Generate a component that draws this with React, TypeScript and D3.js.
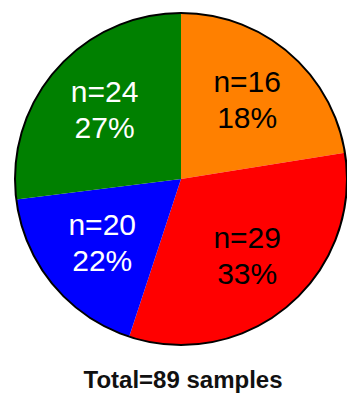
import React from 'react';
import * as d3 from 'd3';

// slice order clockwise from 12 o'clock
const categories = ['orange', 'red', 'blue', 'green'];
const counts = [16, 29, 20, 24];
const percents = ['18%', '33%', '22%', '27%'];
// slice sizes as they are drawn in the picture (orange and blue arcs look swapped vs their labels)
const sliceSizes = [20, 29, 16, 24];
const colors = ['#FF8000', '#FF0000', '#0000FF', '#008000'];
const textColors = ['#000', '#000', '#fff', '#fff'];
const total = 89;

export default function App() {
  const width = 347;
  const height = 396;
  const cx = 181;
  const cy = 179;
  const radius = 166;

  const pie = d3.pie<number>().sort(null).value(d => d);
  const arcs = pie(sliceSizes);
  const arc = d3.arc<d3.PieArcDatum<number>>().innerRadius(0).outerRadius(radius);
  const labelArc = d3.arc<d3.PieArcDatum<number>>().innerRadius(102).outerRadius(102);

  return (
    <svg width={width} height={height} style={{ position: 'absolute', left: 0, top: 0, background: '#fff' }}>
      <g transform={`translate(${cx},${cy})`}>
        {arcs.map((a, i) => (
          <path key={categories[i]} d={arc(a) || ''} fill={colors[i]} />
        ))}
        <circle r={radius} fill="none" stroke="#000" strokeWidth={2} />
        {arcs.map((a, i) => {
          const [x, y] = labelArc.centroid(a);
          return (
            <text key={'t' + i} x={x} y={y} textAnchor="middle" fill={textColors[i]}
              fontFamily="Liberation Sans, Arial, sans-serif" fontSize={30}>
              <tspan x={x} dy={-9}>n={counts[i]}</tspan>
              <tspan x={x} dy={36}>{percents[i]}</tspan>
            </text>
          );
        })}
      </g>
      <text x={183} y={388} textAnchor="middle" fontFamily="Liberation Sans, Arial, sans-serif"
        fontWeight="bold" fontSize={24} fill="#111">Total={total} samples</text>
    </svg>
  );
}
